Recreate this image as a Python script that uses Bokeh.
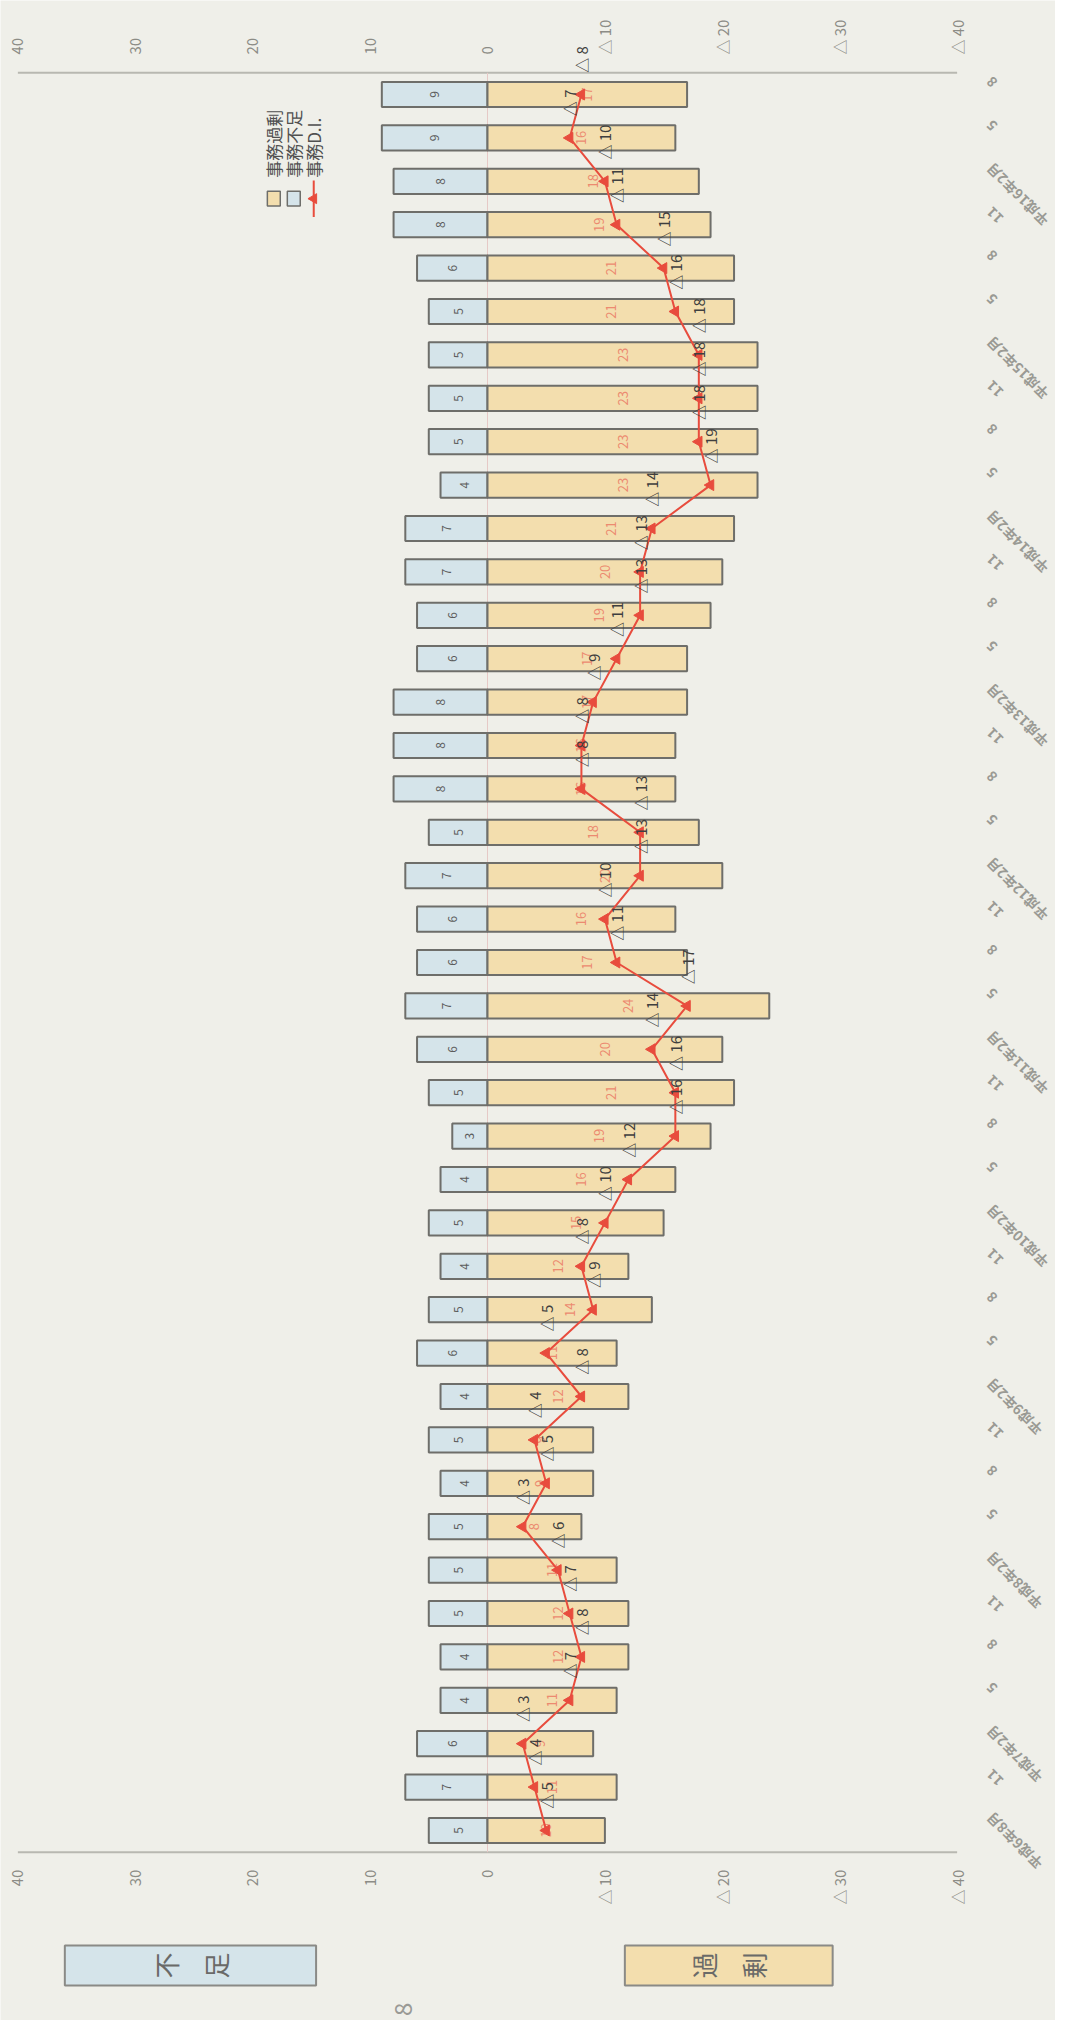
import math
from bokeh.plotting import figure
from bokeh.models import ColumnDataSource, Range1d
from bokeh.core.properties import value
from bokeh.embed import file_html
from bokeh.resources import INLINE

# ---------------- data (chronological, bottom -> top) ----------------
categories = ["平成6年8月", "11", "平成7年2月", "5", "8", "11",
              "平成8年2月", "5", "8", "11", "平成9年2月", "5", "8", "11",
              "平成10年2月", "5", "8", "11", "平成11年2月", "5", "8", "11",
              "平成12年2月", "5", "8", "11", "平成13年2月", "5", "8", "11",
              "平成14年2月", "5", "8", "11", "平成15年2月", "5", "8", "11",
              "平成16年2月", "5", "8"]
shortage = [5, 7, 6, 4, 4, 5, 5, 5, 4, 5, 4, 6, 5, 4, 5, 4, 3, 5, 6, 7, 6,
            6, 7, 5, 8, 8, 8, 6, 6, 7, 7, 4, 5, 5, 5, 5, 6, 8, 8, 9, 9]
excess = [10, 11, 9, 11, 12, 12, 11, 8, 9, 9, 12, 11, 14, 12, 15, 16, 19, 21,
          20, 24, 17, 16, 20, 18, 16, 16, 17, 17, 19, 20, 21, 23, 23, 23, 23,
          21, 21, 19, 18, 16, 17]
di = [-5, -4, -3, -7, -8, -7, -6, -3, -5, -4, -8, -5, -9, -8, -10, -12, -16,
      -16, -14, -17, -11, -10, -13, -13, -8, -8, -9, -11, -13, -13, -14, -19,
      -18, -18, -18, -16, -15, -11, -10, -7, -8]
tick_values = [40, 30, 20, 10, 0, -10, -20, -30, -40]
tick_labels = ["40", "30", "20", "10", "0", "△ 10", "△ 20", "△ 30", "△ 40"]
legend_labels = ["事務過剰", "事務不足", "事務D.I."]
side_labels = ["不\n足", "過\n剰"]

# ---------------- styling ----------------
BG = "#efefe9"
BLUE = "#d5e4ea"
YELLOW = "#f3deae"
EDGE = "#6e6e6a"
RED = "#e84c3d"
JP = value("Noto Sans CJK JP")
N = len(categories)
idx = list(range(N))

p = figure(width=1055, height=2020,
           x_range=Range1d(41.48, -48.38), y_range=Range1d(-4.378, 42.166),
           output_backend="svg", toolbar_location=None,
           x_axis_location=None, y_axis_location=None,
           min_border=0, background_fill_color=BG, border_fill_color=BG,
           outline_line_color=None)
p.grid.visible = False

# axis lines (top / bottom of the value axis) and zero line
p.segment(x0=[40, 40], x1=[-40, -40], y0=[-0.5, 40.5], y1=[-0.5, 40.5],
          line_color="#b8b8b1", line_width=2)
p.segment(x0=[0], x1=[0], y0=[-0.5], y1=[40.5], line_color="#e6c9c6",
          line_width=1)

src = ColumnDataSource(dict(
    y=idx, shortage=shortage, excess_neg=[-e for e in excess],
    s_mid=[s / 2 for s in shortage], e_mid=[-e / 2 for e in excess],
    s_txt=[str(s) for s in shortage], e_txt=[str(e) for e in excess],
    di=di, di_txt=["△ " + str(abs(d)) for d in di],
    di_lab_y=[i + 0.5 for i in idx]))

p.hbar(y="y", left=0, right="shortage", height=0.58, source=src,
       fill_color=BLUE, line_color=EDGE, line_width=2)
p.hbar(y="y", left=0, right="excess_neg", height=0.58, source=src,
       fill_color=YELLOW, line_color=EDGE, line_width=2)

# value labels inside the bars
p.text(x="s_mid", y="y", text="s_txt", source=src, angle=math.pi / 2,
       text_align="center", text_baseline="middle", text_font=JP,
       text_font_size="12px", text_color="#5c5c5c")
p.text(x="e_mid", y="y", text="e_txt", source=src, angle=math.pi / 2,
       text_align="center", text_baseline="middle", text_font=JP,
       text_font_size="13px", text_color="#ec8a70")

# D.I. line
p.line(x="di", y="y", source=src, line_color=RED, line_width=2)
p.scatter(x="di", y="y", source=src, marker="triangle", size=11,
          angle=math.pi / 2, fill_color=RED, line_color=RED)
p.text(x="di", y="di_lab_y", text="di_txt", source=src, angle=math.pi / 2,
       text_align="left", text_baseline="middle", text_font=JP,
       text_font_size="15px", text_color="#3f3f3f")

# tick labels top and bottom
p.text(x=tick_values, y=[40.92] * len(tick_values), text=tick_labels,
       angle=math.pi / 2, text_align="left", text_baseline="middle",
       text_font=JP, text_font_size="15px", text_color="#8c8c86")
p.text(x=tick_values, y=[-0.9] * len(tick_values), text=tick_labels,
       angle=math.pi / 2, text_align="right", text_baseline="middle",
       text_font=JP, text_font_size="15px", text_color="#8c8c86")

# category labels on the right (slanted like the page)
p.text(x=[-42.7] * N, y=[i + 0.35 for i in idx], text=categories,
       angle=3 * math.pi / 4, text_align="right", text_baseline="middle",
       text_font=JP, text_font_size="14px", text_font_style="bold",
       text_color="#9a9a94")

# legend (rotated like the page)
lx = [18.2, 16.5, 14.8]
p.rect(x=lx[0], y=37.6, width=1.1, height=0.34, fill_color=YELLOW,
       line_color=EDGE, line_width=1.5)
p.rect(x=lx[1], y=37.6, width=1.1, height=0.34, fill_color=BLUE,
       line_color=EDGE, line_width=1.5)
p.segment(x0=[lx[2]], x1=[lx[2]], y0=[37.18], y1=[38.02], line_color=RED,
          line_width=2)
p.scatter(x=[lx[2]], y=[37.6], marker="triangle", size=10,
          angle=math.pi / 2, fill_color=RED, line_color=RED)
p.text(x=lx, y=[38.08] * 3, text=legend_labels, angle=math.pi / 2,
       text_align="left", text_baseline="middle", text_font=JP,
       text_font_size="17px", text_color="#505050")

# side boxes 不足 / 過剰
p.quad(left=[36.0, -11.7], right=[14.6, -29.4], bottom=[-3.57, -3.57],
       top=[-2.65, -2.65], fill_color=[BLUE, YELLOW], line_color="#8a8a86",
       line_width=2)
p.text(x=[25.3, -20.55], y=[-3.11, -3.11], text=side_labels,
       angle=math.pi / 2, text_align="center", text_baseline="middle",
       text_font=JP, text_font_size="26px", text_color="#6a6a68",
       text_line_height=1.35)

# page number
p.text(x=[7.2], y=[-4.12], text=["8"], angle=math.pi / 2,
       text_align="center", text_baseline="middle", text_font=JP,
       text_font_size="24px", text_color="#9a9a96")

open("out.html", "w").write(file_html(p, INLINE))
